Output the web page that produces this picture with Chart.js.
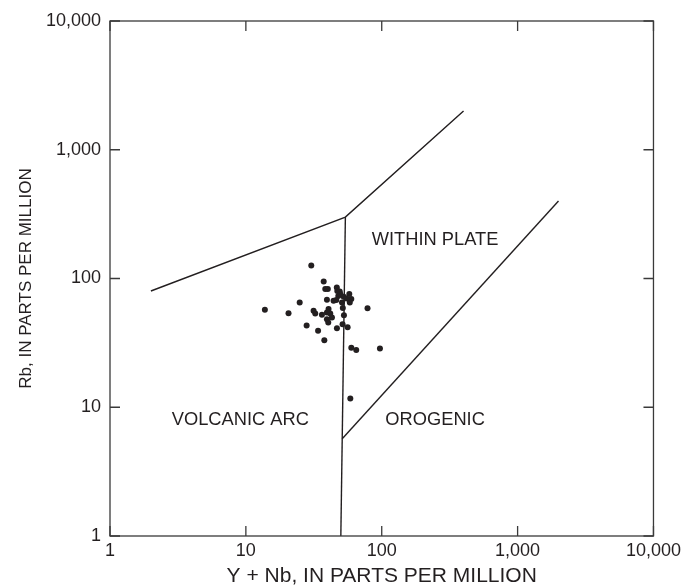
<!DOCTYPE html>
<html>
<head>
<meta charset="utf-8">
<script src="https://cdn.jsdelivr.net/npm/chart.js@4/dist/chart.umd.min.js"></script>
<style>
html,body{margin:0;padding:0;background:#fff;}
canvas{display:block;}
</style>
</head>
<body>
<canvas id="c" width="685" height="586"></canvas>
<script>
// ---- data ----
const tickValues = [1, 10, 100, 1000, 10000];
const tickLabels = ['1', '10', '100', '1,000', '10,000'];

const sampleX = [30.3, 37.4, 38.4, 40.1, 46.7, 47.1, 49.1, 47.9, 49.5, 57.7, 59.7, 58.2,
  44.2, 46.3, 39.5, 51.0, 51.7, 40.6, 39.5, 41.8, 43.0, 39.5, 40.4, 31.5, 32.4, 36.3,
  52.7, 24.9, 13.8, 20.6, 28.0, 34.0, 46.8, 51.5, 56.1, 37.8, 59.7, 64.9, 97.0, 78.6,
  58.7, 52.5, 55.0];
const sampleY = [126, 94.8, 82.9, 82.9, 85.1, 80.0, 79.3, 73.1, 75.8, 75.8, 69.3, 65.1,
  67.1, 68.1, 68.3, 65.1, 59.0, 58.0, 54.4, 53.5, 49.8, 48.3, 45.5, 56.1, 53.5, 52.2,
  51.9, 65.1, 57.1, 53.8, 43.1, 39.3, 41.1, 44.2, 41.8, 33.2, 29.0, 27.9, 28.6, 58.8,
  11.7, 72.0, 70.0];

const upperBoundaryX = [2, 54, 400];
const upperBoundaryY = [80, 300, 2000];
const verticalBoundaryX = [54, 50];
const verticalBoundaryY = [300, 1];
const orogenicBoundaryX = [51.2, 2000];
const orogenicBoundaryY = [5.7, 400];

const regionNames = ['WITHIN PLATE', 'VOLCANIC ARC', 'OROGENIC'];
const regionX = [247, 9.1, 247];
const regionY = [198, 8.0, 8.0];

const xTitle = 'Y + Nb, IN PARTS PER MILLION';
const yTitle = 'Rb, IN PARTS PER MILLION';

// ---- helpers ----
const INK = '#231f20';
const FONT = '"Liberation Sans", Arial, Helvetica, sans-serif';
const pts = (xs, ys) => xs.map((x, i) => ({x: x, y: ys[i]}));
const lineDs = (xs, ys) => ({
  type: 'line', data: pts(xs, ys), showLine: true, borderColor: INK,
  borderWidth: 1.4, pointRadius: 0, fill: false, tension: 0
});

const frameAndTicks = {
  id: 'frameAndTicks',
  afterDatasetsDraw(chart) {
    const ctx = chart.ctx, a = chart.chartArea;
    const xs = chart.scales.x, ys = chart.scales.y;
    ctx.save();
    ctx.strokeStyle = '#3a3a3a';
    ctx.lineWidth = 1.3;
    ctx.strokeRect(a.left, a.top, a.right - a.left, a.bottom - a.top);
    ctx.beginPath();
    tickValues.forEach(v => {
      const px = xs.getPixelForValue(v);
      ctx.moveTo(px, a.bottom); ctx.lineTo(px, a.bottom - 10);
      ctx.moveTo(px, a.top); ctx.lineTo(px, a.top + 10);
      const py = ys.getPixelForValue(v);
      ctx.moveTo(a.left, py); ctx.lineTo(a.left + 10, py);
      ctx.moveTo(a.right, py); ctx.lineTo(a.right - 10, py);
    });
    ctx.stroke();
    // region labels
    ctx.fillStyle = INK;
    ctx.font = '18.3px ' + FONT;
    ctx.textAlign = 'center';
    ctx.textBaseline = 'middle';
    regionNames.forEach((n, i) => {
      ctx.fillText(n, xs.getPixelForValue(regionX[i]), ys.getPixelForValue(regionY[i]));
    });
    ctx.restore();
  }
};

const logScale = (axis) => ({
  type: 'logarithmic', min: 1, max: 10000, position: axis === 'x' ? 'bottom' : 'left',
  afterBuildTicks(s) { s.ticks = tickValues.map(v => ({value: v})); },
  afterFit(s) { if (axis === 'x') s.height = 50; else s.width = 110; },
  grid: {display: false, drawTicks: false, tickLength: 0},
  border: {display: false},
  ticks: {
    autoSkip: false, maxRotation: 0, minRotation: 0,
    padding: axis === 'x' ? 4 : 9,
    color: INK,
    font: {family: FONT, size: 18},
    callback: (v) => { const i = tickValues.indexOf(v); return i >= 0 ? tickLabels[i] : ''; }
  },
  title: {
    display: true, text: axis === 'x' ? xTitle : yTitle, color: INK,
    font: {family: FONT, size: axis === 'x' ? 21 : 17},
    padding: axis === 'x' ? {top: 0, bottom: -3} : {top: 16, bottom: 0}
  }
});

new Chart(document.getElementById('c'), {
  type: 'scatter',
  data: {
    datasets: [
      lineDs(upperBoundaryX, upperBoundaryY),
      lineDs(verticalBoundaryX, verticalBoundaryY),
      lineDs(orogenicBoundaryX, orogenicBoundaryY),
      {
        type: 'scatter', data: pts(sampleX, sampleY), backgroundColor: INK,
        borderColor: INK, borderWidth: 0, pointRadius: 3
      }
    ]
  },
  options: {
    responsive: false, animation: false, devicePixelRatio: 1,
    layout: {padding: {top: 21, right: 31, left: 0, bottom: 0}},
    plugins: {legend: {display: false}, tooltip: {enabled: false}},
    scales: {x: logScale('x'), y: logScale('y')}
  },
  plugins: [frameAndTicks]
});
</script>
</body>
</html>
